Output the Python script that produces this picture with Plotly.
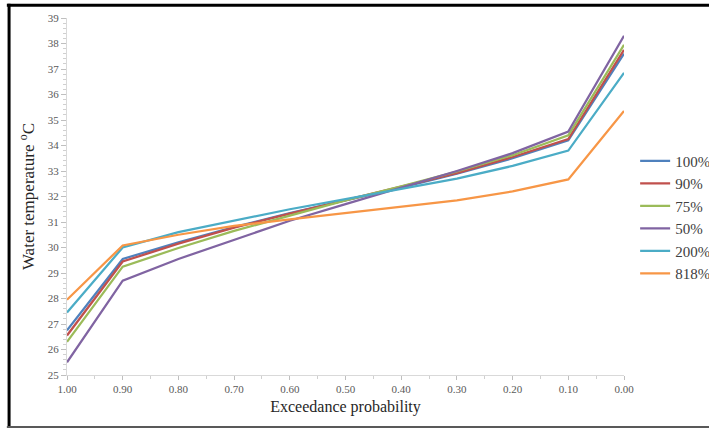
import plotly.graph_objects as go

# Exceedance probability (x) and water temperature (°C) for each scenario
exceedance = [1.0, 0.9, 0.8, 0.7, 0.6, 0.5, 0.4, 0.3, 0.2, 0.1, 0.0]

temp_100 = [26.75, 29.55, 30.20, 30.80, 31.35, 31.85, 32.35, 32.90, 33.50, 34.20, 37.60]
temp_90 = [26.55, 29.45, 30.15, 30.78, 31.33, 31.85, 32.37, 32.92, 33.55, 34.25, 37.75]
temp_75 = [26.30, 29.25, 29.98, 30.65, 31.25, 31.85, 32.40, 32.98, 33.62, 34.40, 37.95]
temp_50 = [25.50, 28.70, 29.55, 30.30, 31.05, 31.70, 32.35, 33.00, 33.70, 34.55, 38.30]
temp_200 = [27.45, 30.00, 30.60, 31.05, 31.50, 31.90, 32.30, 32.70, 33.20, 33.80, 36.85]
temp_818 = [27.95, 30.08, 30.50, 30.85, 31.10, 31.35, 31.60, 31.85, 32.20, 32.67, 35.35]

series_names = ["100%", "90%", "75%", "50%", "200%", "818%"]
series_values = [temp_100, temp_90, temp_75, temp_50, temp_200, temp_818]
series_colors = ["#4F81BD", "#C0504D", "#9BBB59", "#8064A2", "#4BACC6", "#F79646"]

x_tickvals = [1.0, 0.9, 0.8, 0.7, 0.6, 0.5, 0.4, 0.3, 0.2, 0.1, 0.0]
x_ticktext = ["1.00", "0.90", "0.80", "0.70", "0.60", "0.50", "0.40", "0.30", "0.20", "0.10", "0.00"]

FONT = "Liberation Serif"

fig = go.Figure()
for name, vals, color in zip(series_names, series_values, series_colors):
    fig.add_trace(go.Scatter(
        x=exceedance, y=vals, name=name, mode="lines",
        line=dict(color=color, width=2.25),
    ))

fig.update_layout(
    width=709, height=429,
    margin=dict(l=67, r=85, t=18, b=54, autoexpand=False),
    paper_bgcolor="white", plot_bgcolor="white",
    font=dict(family=FONT, color="#404040"),
    showlegend=True,
    legend=dict(
        x=1.02, y=0.645, xanchor="left", yanchor="top",
        font=dict(family=FONT, size=15, color="#404040"),
        tracegroupgap=0, itemwidth=30,
        bgcolor="rgba(0,0,0,0)",
    ),
    xaxis=dict(
        range=[1.0, 0.0], autorange=False,
        tickvals=x_tickvals, ticktext=x_ticktext,
        tickfont=dict(family=FONT, size=11, color="#595959"),
        showgrid=False, zeroline=False,
        showline=True, linecolor="#D9D9D9", linewidth=1,
        ticks="outside", ticklen=4, tickcolor="#BFBFBF",
        minor=dict(dtick=0.05, tick0=0, ticks="outside", ticklen=3, tickcolor="#D0D0D0"),
        title=dict(text="Exceedance probability", font=dict(family=FONT, size=16, color="#262626"), standoff=6),
    ),
    yaxis=dict(
        range=[25, 39], autorange=False, dtick=1,
        tickfont=dict(family=FONT, size=11, color="#595959"),
        showgrid=False, zeroline=False,
        showline=True, linecolor="#D9D9D9", linewidth=1,
        ticks="outside", ticklen=5, tickcolor="#BFBFBF",
        minor=dict(dtick=0.2, ticks="outside", ticklen=3, tickcolor="#D0D0D0"),
        title=dict(text="Water temperature <sup>o</sup>C", font=dict(family=FONT, size=17, color="#262626"), standoff=8),
    ),
)

# Frame around the whole chart area
fig.add_shape(type="line", xref="paper", yref="paper",
              x0=-0.108, x1=1.16, y0=1.036, y1=1.036, line=dict(color="black", width=3))
fig.add_shape(type="line", xref="paper", yref="paper",
              x0=-0.104, x1=-0.104, y0=1.04, y1=-0.146, line=dict(color="black", width=3))
fig.add_shape(type="line", xref="paper", yref="paper",
              x0=-0.108, x1=1.16, y0=-0.146, y1=-0.146, line=dict(color="#595959", width=2))

fig.write_html("out.html")
